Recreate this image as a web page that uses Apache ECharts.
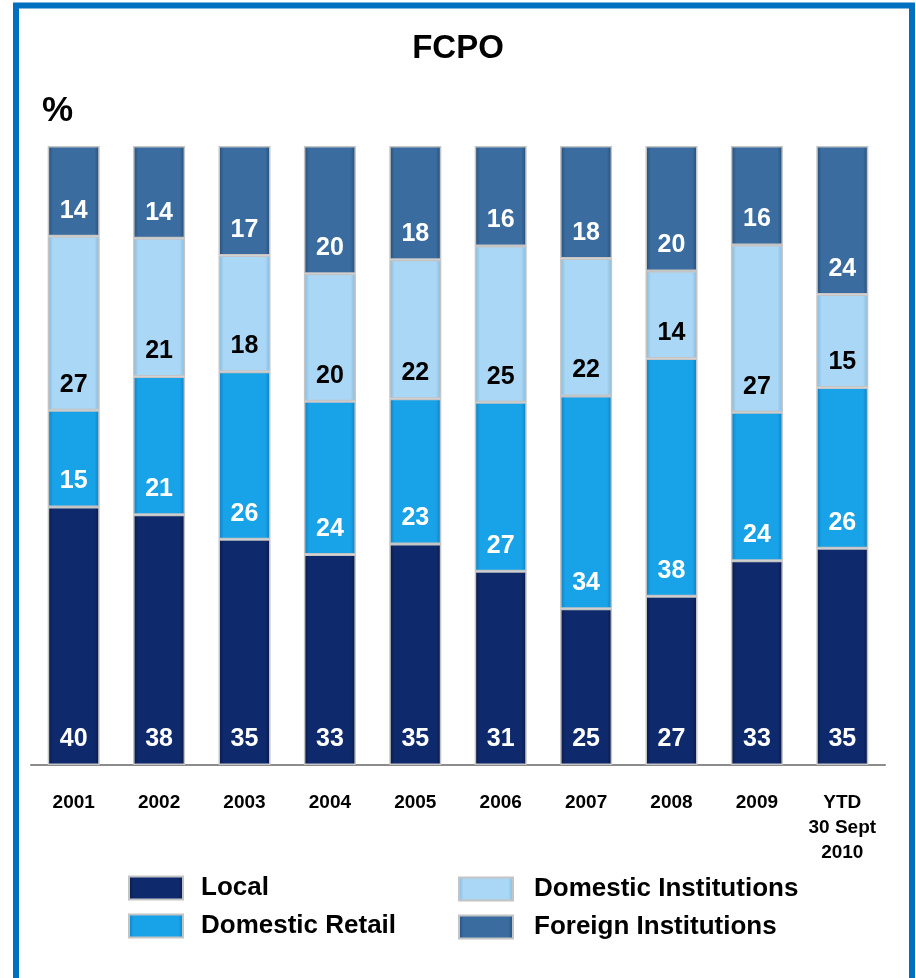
<!DOCTYPE html>
<html>
<head>
<meta charset="utf-8">
<script src="https://cdn.jsdelivr.net/npm/echarts@6/dist/echarts.min.js"></script>
<style>
  html, body { margin: 0; padding: 0; background: #fff; }
  #chart { width: 916px; height: 978px; }
</style>
</head>
<body>
<div id="chart"></div>
<script>
const years = ["2001", "2002", "2003", "2004", "2005", "2006", "2007", "2008", "2009", "YTD\n30 Sept\n2010"];
const local = [40, 38, 35, 33, 35, 31, 25, 27, 33, 35];
const domesticRetail = [15, 21, 26, 24, 23, 27, 34, 38, 24, 26];
const domesticInst = [27, 21, 18, 20, 22, 25, 22, 14, 27, 15];
const foreignInst = [14, 14, 17, 20, 18, 16, 18, 20, 16, 24];

// each bar is drawn as share of its own total (the stacks fill 100%)
const totals = years.map((y, i) => local[i] + domesticRetail[i] + domesticInst[i] + foreignInst[i]);
function share(arr) {
  return arr.map((v, i) => ({ value: v / totals[i] * 100, raw: v }));
}

function bevel(edge, mid) {
  return {
    type: "linear", x: 0, y: 0, x2: 1, y2: 0,
    colorStops: [
      { offset: 0, color: edge },
      { offset: 0.1, color: mid },
      { offset: 0.9, color: mid },
      { offset: 1, color: edge }
    ]
  };
}

function makeSeries(name, arr, edge, mid, labelColor) {
  return {
    name: name,
    type: "bar",
    stack: "total",
    barWidth: 52,
    data: share(arr),
    itemStyle: {
      color: bevel(edge, mid),
      borderColor: "#c4c4c4",
      borderWidth: 1.5
    },
    label: {
      show: true,
      position: "insideBottom",
      distance: 13,
      color: labelColor,
      fontFamily: "Liberation Sans, Arial",
      fontWeight: "bold",
      fontSize: 25,
      formatter: p => p.data.raw
    }
  };
}

const legendText = { fontFamily: "Liberation Sans, Arial", fontWeight: "bold", fontSize: 26, color: "#000" };

let myChart = echarts.init(document.getElementById("chart"));
const option = {
  backgroundColor: "#ffffff",
  animation: false,
  graphic: [
    {
      type: "rect",
      shape: { x: 16, y: 5.5, width: 896, height: 1000 },
      style: { fill: "none", stroke: "#0070c0", lineWidth: 6 }
    },
    {
      type: "text",
      left: 42, top: 94,
      style: { text: "%", font: "bold 35px Liberation Sans, Arial", fill: "#000" }
    }
  ],
  title: {
    text: "FCPO",
    left: "center",
    top: 27,
    textStyle: { fontFamily: "Liberation Sans, Arial", fontWeight: "bold", fontSize: 33, color: "#000" }
  },
  legend: [
    {
      data: ["Local", "Domestic Retail"],
      orient: "vertical",
      icon: "rect",
      padding: 0,
      left: 128, top: 875,
      itemWidth: 54, itemHeight: 23, itemGap: 12,
      textStyle: Object.assign({ padding: [0, 0, 0, 13] }, legendText)
    },
    {
      data: ["Domestic Institutions", "Foreign Institutions"],
      orient: "vertical",
      icon: "rect",
      padding: 0,
      left: 458, top: 876,
      itemWidth: 54, itemHeight: 23, itemGap: 12,
      textStyle: Object.assign({ padding: [0, 0, 0, 16] }, legendText)
    }
  ],
  grid: { left: 31, right: 31, top: 146, bottom: 213 },
  xAxis: {
    type: "category",
    data: years,
    axisLine: { lineStyle: { color: "#8c8c8c", width: 2 } },
    axisTick: { show: false },
    axisLabel: {
      interval: 0,
      margin: 25,
      color: "#000",
      fontFamily: "Liberation Sans, Arial",
      fontWeight: "bold",
      fontSize: 19,
      lineHeight: 25
    }
  },
  yAxis: { type: "value", min: 0, max: 100, show: false },
  series: [
    makeSeries("Local", local, "#071744", "#0f2a6c", "#ffffff"),
    makeSeries("Domestic Retail", domesticRetail, "#0c7cbf", "#18a2e8", "#ffffff"),
    makeSeries("Domestic Institutions", domesticInst, "#83b6d9", "#a9d7f5", "#000000"),
    makeSeries("Foreign Institutions", foreignInst, "#244b73", "#3a6ca0", "#ffffff")
  ]
};

myChart.setOption(option);
</script>
</body>
</html>
